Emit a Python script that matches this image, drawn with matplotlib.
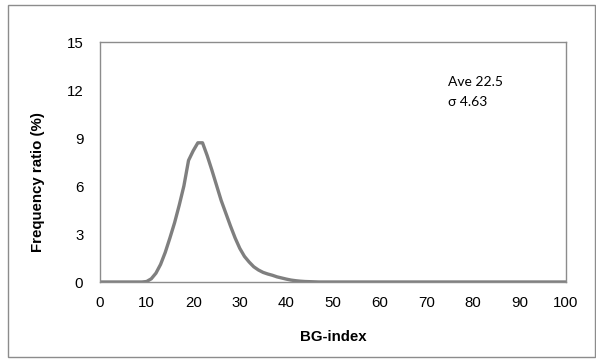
import matplotlib
matplotlib.use("Agg")
import matplotlib.pyplot as plt
from matplotlib.patches import Rectangle

# Data
bg_index = list(range(0, 101))
freq_nonzero = {
    10: 0.03, 11: 0.2, 12: 0.55, 13: 1.1, 14: 1.85, 15: 2.75, 16: 3.7,
    17: 4.8, 18: 6.0, 19: 7.6, 20: 8.2, 21: 8.7, 22: 8.7, 23: 7.9,
    24: 7.0, 25: 6.05, 26: 5.1, 27: 4.3, 28: 3.5, 29: 2.75, 30: 2.1,
    31: 1.6, 32: 1.25, 33: 0.95, 34: 0.75, 35: 0.6, 36: 0.5, 37: 0.42,
    38: 0.32, 39: 0.25, 40: 0.18, 41: 0.12, 42: 0.08, 43: 0.05,
    44: 0.03, 45: 0.02, 46: 0.01,
}
frequency = [freq_nonzero.get(x, 0.0) for x in bg_index]
x_ticks = list(range(0, 101, 10))
y_ticks = [0, 3, 6, 9, 12, 15]
annotation_lines = ["Ave 22.5", "\u03c3 4.63"]

W, H = 596, 361
fig = plt.figure(figsize=(W / 100, H / 100), dpi=100)
fig.patch.set_facecolor("white")

# outer chart border
fig.add_artist(Rectangle((8 / W, 1 - 357 / H), (595 - 8) / W, (357 - 5) / H,
                         transform=fig.transFigure, fill=False,
                         edgecolor="#8c8c8c", linewidth=1.0))

ax = fig.add_axes([100 / W, 1 - 282 / H, (566 - 100) / W, (282 - 42) / H])
ax.plot(bg_index, frequency, color="#7f7f7f", linewidth=2.4,
        solid_joinstyle="round", solid_capstyle="round")
ax.set_xlim(0, 100)
ax.set_ylim(0, 15)
ax.set_xticks(x_ticks)
ax.set_yticks(y_ticks)
font = "Liberation Sans"
ax.tick_params(length=0, labelsize=10.8, colors="black")
ax.tick_params(axis="y", pad=12)
ax.tick_params(axis="x", pad=10)
for lbl in ax.get_xticklabels() + ax.get_yticklabels():
    lbl.set_fontfamily(font)
for s in ax.spines.values():
    s.set_color("#8c8c8c")
    s.set_linewidth(1.0)

fig.text(38 / W, 1 - 182 / H, "Frequency ratio (%)", rotation=90,
         ha="center", va="center", fontsize=10.8, fontweight="bold",
         family=font)
fig.text(333 / W, 1 - 341 / H, "BG-index", ha="center", va="baseline",
         fontsize=10.8, fontweight="bold", family=font)

fig.text(448 / W, 1 - 86 / H, annotation_lines[0], ha="left", va="baseline",
         fontsize=10, family="Lato")
fig.text(448 / W, 1 - 106 / H, annotation_lines[1], ha="left", va="baseline",
         fontsize=10, family="Lato")

fig.savefig("out.png", dpi=100)
